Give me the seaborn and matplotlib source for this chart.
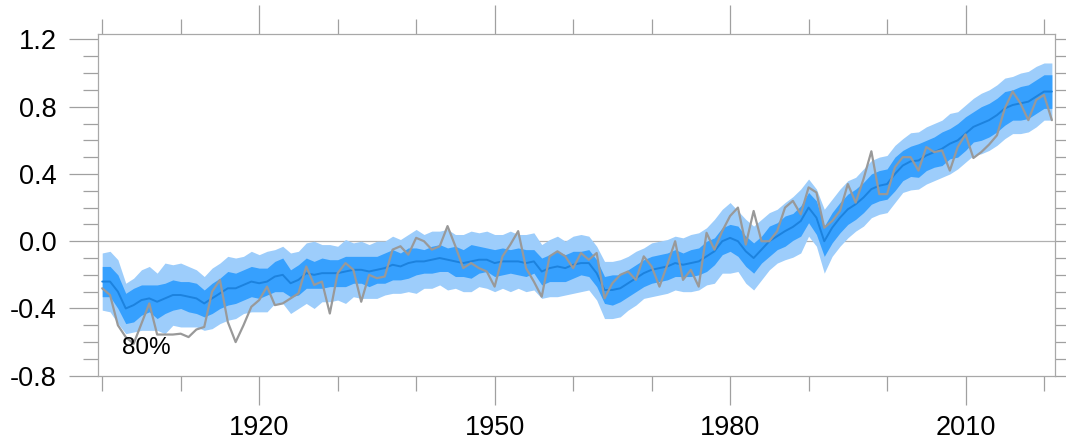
import numpy as np
import pandas as pd
import seaborn as sns
import matplotlib
matplotlib.use("Agg")
import matplotlib.pyplot as plt
from matplotlib.ticker import MultipleLocator, FormatStrFormatter

# years shown in the reference
years = list(range(1900, 2022))

# ensemble mean (blue line)
ens_mean = [
    -0.24, -0.24, -0.30, -0.40, -0.38, -0.35, -0.34, -0.36, -0.34, -0.32,
    -0.32, -0.33, -0.34, -0.37, -0.34, -0.31, -0.28, -0.28, -0.26, -0.24,
    -0.25, -0.24, -0.21, -0.20, -0.25, -0.23, -0.19, -0.20, -0.19, -0.19,
    -0.19, -0.18, -0.17, -0.17, -0.18, -0.17, -0.16, -0.14, -0.15, -0.13,
    -0.12, -0.12, -0.11, -0.10, -0.11, -0.12, -0.13, -0.12, -0.11, -0.11,
    -0.13, -0.12, -0.12, -0.12, -0.13, -0.12, -0.18, -0.16, -0.15, -0.16,
    -0.14, -0.13, -0.13, -0.19, -0.29, -0.29, -0.28, -0.25, -0.22, -0.19,
    -0.17, -0.16, -0.15, -0.13, -0.14, -0.13, -0.12, -0.09, -0.06, 0.00,
    0.02, 0.00, -0.06, -0.10, -0.05, 0.00, 0.03, 0.06, 0.085, 0.12,
    0.20, 0.14, 0.00, 0.08, 0.14, 0.19, 0.22, 0.26, 0.31, 0.33,
    0.34, 0.40, 0.45, 0.475, 0.48, 0.51, 0.53, 0.55, 0.58, 0.60,
    0.64, 0.68, 0.70, 0.72, 0.75, 0.79, 0.81, 0.82, 0.83, 0.86,
    0.89, 0.89,
]

# observations (grey line)
obs = [
    -0.28, -0.32, -0.50, -0.57, -0.61, -0.49, -0.37, -0.555, -0.555, -0.555,
    -0.55, -0.57, -0.525, -0.51, -0.30, -0.23, -0.48, -0.60, -0.50, -0.39,
    -0.35, -0.27, -0.38, -0.37, -0.34, -0.31, -0.15, -0.26, -0.24, -0.43,
    -0.19, -0.13, -0.17, -0.36, -0.20, -0.22, -0.21, -0.05, -0.03, -0.08,
    0.02, 0.00, -0.05, -0.03, 0.09, -0.03, -0.16, -0.13, -0.16, -0.18,
    -0.27, -0.09, -0.02, 0.06, -0.16, -0.24, -0.33, -0.09, -0.06, -0.09,
    -0.16, -0.07, -0.11, -0.07, -0.34, -0.25, -0.20, -0.18, -0.23, -0.09,
    -0.15, -0.27, -0.14, 0.00, -0.23, -0.17, -0.27, 0.05, -0.05, 0.06,
    0.15, 0.20, -0.02, 0.18, 0.00, 0.00, 0.06, 0.20, 0.24, 0.16,
    0.32, 0.29, 0.08, 0.12, 0.18, 0.34, 0.23, 0.37, 0.535, 0.28,
    0.28, 0.44, 0.50, 0.50, 0.42, 0.56, 0.53, 0.54, 0.42, 0.56,
    0.635, 0.495, 0.53, 0.575, 0.63, 0.79, 0.89, 0.82, 0.72, 0.84,
    0.87, 0.72,
]

# half widths of the inner (dark) and outer 80% (light) ranges
inner_half = [
    0.09, 0.09, 0.10, 0.09, 0.10, 0.09, 0.08, 0.10, 0.09, 0.09,
    0.08, 0.09, 0.09, 0.08, 0.09, 0.09, 0.10, 0.09, 0.09, 0.09,
    0.09, 0.08, 0.09, 0.10, 0.08, 0.09, 0.09, 0.08, 0.09, 0.08,
    0.08, 0.09, 0.08, 0.08, 0.09, 0.08, 0.09, 0.09, 0.08, 0.09,
    0.08, 0.07, 0.08, 0.08, 0.07, 0.09, 0.08, 0.10, 0.08, 0.07,
    0.08, 0.08, 0.07, 0.08, 0.08, 0.07, 0.08, 0.08, 0.09, 0.08,
    0.08, 0.07, 0.08, 0.08, 0.08, 0.09, 0.08, 0.08, 0.08, 0.08,
    0.08, 0.08, 0.08, 0.08, 0.07, 0.08, 0.08, 0.09, 0.08, 0.08,
    0.08, 0.09, 0.09, 0.09, 0.08, 0.09, 0.08, 0.09, 0.08, 0.09,
    0.09, 0.10, 0.09, 0.09, 0.09, 0.09, 0.09, 0.09, 0.09, 0.09,
    0.09, 0.10, 0.09, 0.09, 0.10, 0.09, 0.09, 0.10, 0.09, 0.10,
    0.10, 0.09, 0.10, 0.10, 0.10, 0.10, 0.09, 0.10, 0.10, 0.10,
    0.10, 0.10,
]
outer_half = [
    0.17, 0.18, 0.19, 0.15, 0.16, 0.18, 0.19, 0.17, 0.21, 0.18,
    0.19, 0.18, 0.17, 0.16, 0.18, 0.18, 0.19, 0.18, 0.17, 0.18,
    0.17, 0.18, 0.16, 0.17, 0.18, 0.17, 0.18, 0.20, 0.17, 0.17,
    0.16, 0.19, 0.16, 0.17, 0.16, 0.17, 0.16, 0.17, 0.16, 0.17,
    0.19, 0.16, 0.17, 0.16, 0.18, 0.16, 0.17, 0.18, 0.16, 0.17,
    0.17, 0.16, 0.18, 0.16, 0.17, 0.17, 0.16, 0.17, 0.18, 0.16,
    0.17, 0.17, 0.16, 0.16, 0.17, 0.17, 0.17, 0.16, 0.16, 0.15,
    0.16, 0.16, 0.16, 0.16, 0.16, 0.17, 0.17, 0.17, 0.19, 0.19,
    0.21, 0.18, 0.19, 0.19, 0.18, 0.17, 0.16, 0.17, 0.18, 0.19,
    0.17, 0.17, 0.19, 0.17, 0.17, 0.17, 0.16, 0.17, 0.17, 0.17,
    0.17, 0.17, 0.16, 0.17, 0.17, 0.17, 0.17, 0.17, 0.18, 0.17,
    0.17, 0.17, 0.18, 0.18, 0.18, 0.18, 0.17, 0.18, 0.18, 0.18,
    0.17, 0.17,
]

df = pd.DataFrame({"year": years, "mean": ens_mean, "obs": obs,
                   "inner": inner_half, "outer": outer_half})

sns.set_style("white")
plt.rcParams["font.family"] = ["Liberation Sans", "DejaVu Sans"]
plt.rcParams["axes.unicode_minus"] = False

fig = plt.figure(figsize=(10.66, 4.41), dpi=100)
ax = fig.add_axes([0.0922, 0.148, 0.8975, 0.774])

# spread bands
ax.fill_between(df["year"], df["mean"] - df["outer"], df["mean"] + df["outer"],
                color="#9dcdfb", lw=0, zorder=2)
ax.fill_between(df["year"], df["mean"] - df["inner"], df["mean"] + df["inner"],
                color="#36a0fe", lw=0, zorder=3)
ax.axhline(0, color="#b0b0b0", lw=0.9, zorder=1)

sns.lineplot(data=df, x="year", y="mean", color="#1c82de", lw=1.4,
             ax=ax, zorder=4)
sns.lineplot(data=df, x="year", y="obs", color="#999999", lw=1.6,
             ax=ax, zorder=5)

ax.text(1905.6, -0.637, "80%", fontsize=17.5, ha="center", va="center",
        color="black", zorder=6)

ax.set_xlim(1899.5, 2021.4)
ax.set_ylim(-0.8, 1.23)
ax.set_xlabel("")
ax.set_ylabel("")

ax.xaxis.set_major_locator(MultipleLocator(30))
ax.xaxis.set_minor_locator(MultipleLocator(10))
ax.yaxis.set_major_locator(MultipleLocator(0.4))
ax.yaxis.set_minor_locator(MultipleLocator(0.1))
ax.yaxis.set_major_formatter(FormatStrFormatter("%.1f"))

# outward ticks on all four sides, like the reference
ax.tick_params(which="both", direction="out", bottom=True, left=True,
               top=True, right=True, color="#a0a0a0", width=0.9)
ax.tick_params(which="major", length=21, pad=9, labelsize=19.5,
               labelcolor="black")
ax.tick_params(axis="x", which="major", pad=7)
ax.tick_params(which="minor", length=11)

for spine in ax.spines.values():
    spine.set_color("#a8a8a8")
    spine.set_linewidth(0.9)

fig.savefig("out.png", dpi=100)
plt.close(fig)
